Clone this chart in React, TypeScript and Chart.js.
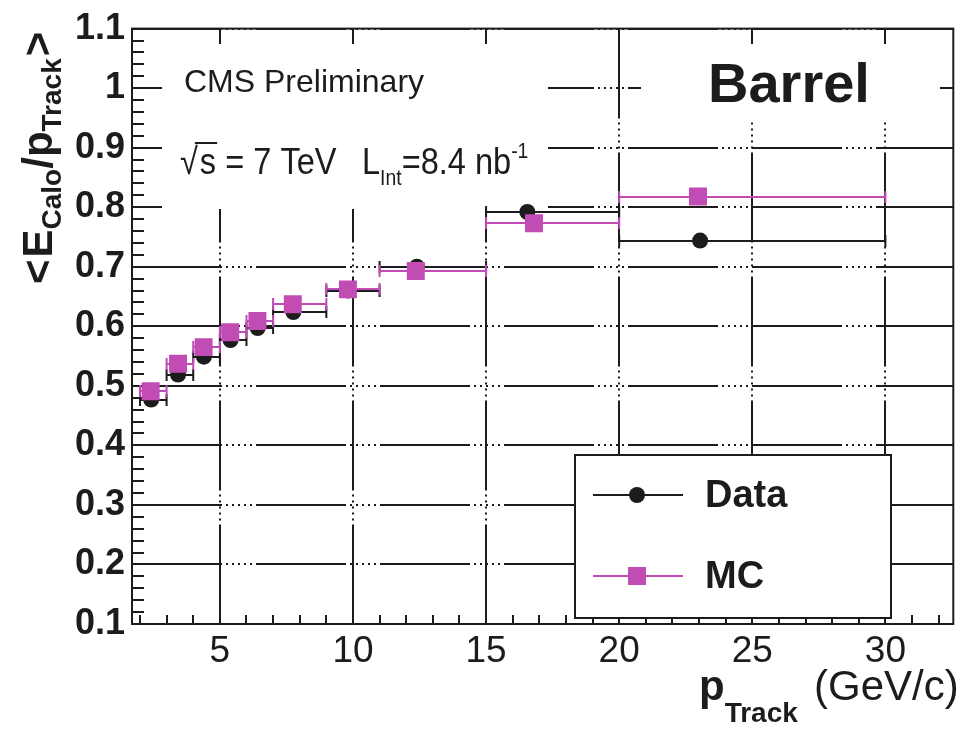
import React, { useEffect, useRef } from "react";
import { Chart, registerables } from "chart.js";

Chart.register(...registerables);

// ---- data ----
const binLow = [2, 3, 4, 5, 6, 7, 9, 11, 15, 20];
const binHigh = [3, 4, 5, 6, 7, 9, 11, 15, 20, 30];
const dataX = [2.42, 3.43, 4.4, 5.4, 6.42, 7.76, 9.82, 12.4, 16.55, 23.04];
const dataY = [0.477, 0.519, 0.549, 0.577, 0.597, 0.624, 0.66, 0.7, 0.792, 0.744];
const mcX = [2.4, 3.43, 4.39, 5.39, 6.41, 7.74, 9.81, 12.36, 16.8, 22.96];
const mcY = [0.491, 0.537, 0.565, 0.59, 0.609, 0.637, 0.662, 0.693, 0.773, 0.818];
const seriesLabels = ["Data", "MC"];
const xTickValues = [5, 10, 15, 20, 25, 30];
const xTickLabels = ["5", "10", "15", "20", "25", "30"];
const yTickValues = [0.1, 0.2, 0.3, 0.4, 0.5, 0.6, 0.7, 0.8, 0.9, 1.0, 1.1];
const yTickLabels = ["0.1", "0.2", "0.3", "0.4", "0.5", "0.6", "0.7", "0.8", "0.9", "1", "1.1"];
const xRange = [1.7, 32.55];
const yRange = [0.1, 1.1];

const FONT = '"Liberation Sans", Arial, Helvetica, sans-serif';
const INK = "#1c1c1c";
const MAGENTA = "#c04cb4";
const GRID_DASH = [90, 4, 2, 4, 2, 4, 2, 4, 2, 4, 2, 4];

function drawSegments(ctx, segs, x0, y0, sx = 1) {
  let x = x0;
  for (const s of segs) {
    ctx.font = s.font;
    ctx.save();
    ctx.translate(x, y0 + (s.dy || 0));
    ctx.scale(sx, 1);
    ctx.fillText(s.text, 0, 0);
    ctx.restore();
    x += ctx.measureText(s.text).width * sx + (s.gap || 0);
  }
  return x;
}

// white text boxes (paves) that hide the grid behind the labels
const paves = {
  id: "paves",
  beforeDatasetsDraw(chart) {
    const { ctx } = chart;
    ctx.save();
    ctx.fillStyle = "#ffffff";
    ctx.fillRect(162, 44, 386, 165);
    ctx.fillRect(641, 44, 299, 76);
    ctx.restore();
  },
};

const frameTicks = {
  id: "frameTicks",
  beforeDatasetsDraw(chart) {
    const { ctx, chartArea: a, scales } = chart;
    const xs = scales.x;
    const ys = scales.y;
    ctx.save();
    ctx.strokeStyle = INK;
    ctx.lineWidth = 2;
    ctx.beginPath();
    for (let k = 0; k <= 50; k++) {
      const v = yRange[0] + k * 0.02;
      const py = Math.round(ys.getPixelForValue(v));
      const len = k % 5 === 0 ? 24 : 12;
      ctx.moveTo(a.left, py);
      ctx.lineTo(a.left + len, py);
    }
    for (let v = 2; v <= 32; v++) {
      const px = Math.round(xs.getPixelForValue(v));
      const len = v % 5 === 0 ? 16 : 9;
      ctx.moveTo(px, a.bottom);
      ctx.lineTo(px, a.bottom - len);
    }
    for (const v of xTickValues) {
      const px = Math.round(xs.getPixelForValue(v));
      ctx.moveTo(px, a.top);
      ctx.lineTo(px, a.top + 15);
    }
    ctx.stroke();
    ctx.strokeRect(a.left, a.top, a.right - a.left, a.bottom - a.top);
    ctx.restore();
  },
};

const errorBars = {
  id: "errorBars",
  beforeDatasetsDraw(chart) {
    const { ctx, scales } = chart;
    const xs = scales.x;
    const ys = scales.y;
    ctx.save();
    chart.data.datasets.forEach((ds) => {
      ctx.strokeStyle = ds.borderColor;
      ctx.lineWidth = 2;
      ctx.beginPath();
      ds.data.forEach((p, j) => {
        const x1 = xs.getPixelForValue(binLow[j]);
        const x2 = xs.getPixelForValue(binHigh[j]);
        const py = Math.round(ys.getPixelForValue(p.y));
        ctx.moveTo(x1, py);
        ctx.lineTo(x2, py);
        ctx.moveTo(x1, py - 6);
        ctx.lineTo(x1, py + 6);
        ctx.moveTo(x2, py - 6);
        ctx.lineTo(x2, py + 6);
      });
      ctx.stroke();
    });
    ctx.restore();
  },
};

const annotations = {
  id: "annotations",
  afterDraw(chart) {
    const { ctx } = chart;
    ctx.save();
    ctx.fillStyle = INK;
    ctx.textBaseline = "alphabetic";
    ctx.textAlign = "left";

    // CMS Preliminary
    ctx.font = `32px ${FONT}`;
    ctx.fillText("CMS Preliminary", 184, 92);

    // sqrt(s) = 7 TeV  L_Int = 8.4 nb^-1
    const cond = 0.88;
    const main = `37px ${FONT}`;
    const sub = `22px ${FONT}`;
    const rEnd = drawSegments(ctx, [{ text: "\u221A", font: main }], 180, 174, cond);
    const sx = rEnd + 2;
    ctx.font = main;
    const sw = ctx.measureText("s").width * cond;
    ctx.strokeStyle = INK;
    ctx.lineWidth = 2;
    ctx.beginPath();
    ctx.moveTo(rEnd - 3, 143);
    ctx.lineTo(sx + sw + 1, 143);
    ctx.stroke();
    drawSegments(ctx, [{ text: "s = 7 TeV", font: main }], sx, 174, cond);
    drawSegments(ctx, [
      { text: "L", font: main },
      { text: "Int", font: sub, dy: 11 },
      { text: "=8.4 nb", font: main },
      { text: "-1", font: sub, dy: -16 },
    ], 362, 174, cond);

    // Barrel
    ctx.font = `bold 56px ${FONT}`;
    ctx.fillText("Barrel", 708, 102);

    // X axis title
    const xb = `bold 42px ${FONT}`;
    const xsub = `bold 28px ${FONT}`;
    drawSegments(ctx, [
      { text: "p", font: xb },
      { text: "Track", font: xsub, dy: 22 },
    ], 699, 700);
    ctx.font = `42px ${FONT}`;
    ctx.fillText("(GeV/c)", 814, 700);

    // Y axis title (rotated)
    ctx.translate(52, 284);
    ctx.rotate(-Math.PI / 2);
    const yb = `bold 42px ${FONT}`;
    const ysub = `bold 28px ${FONT}`;
    drawSegments(ctx, [
      { text: "<", font: yb, gap: 2 },
      { text: "E", font: yb },
      { text: "Calo", font: ysub, dy: 9 },
      { text: "/", font: yb },
      { text: "p", font: yb },
      { text: "Track", font: ysub, dy: 9, gap: 2 },
      { text: ">", font: yb },
    ], 0, 0);
    ctx.restore();

    // Legend box
    ctx.save();
    ctx.fillStyle = "#ffffff";
    ctx.fillRect(575, 455, 316, 163);
    ctx.strokeStyle = INK;
    ctx.lineWidth = 2;
    ctx.strokeRect(575, 455, 316, 163);
    const entries = chart.data.datasets;
    const rowY = [495, 576];
    entries.forEach((ds, i) => {
      const y = rowY[i];
      ctx.strokeStyle = ds.borderColor;
      ctx.lineWidth = 2;
      ctx.beginPath();
      ctx.moveTo(593, y);
      ctx.lineTo(683, y);
      ctx.stroke();
      ctx.fillStyle = ds.backgroundColor;
      if (ds.pointStyle === "rect") {
        ctx.fillRect(637 - 9, y - 9, 18, 18);
      } else {
        ctx.beginPath();
        ctx.arc(637, y, 8, 0, Math.PI * 2);
        ctx.fill();
      }
      ctx.fillStyle = INK;
      ctx.font = `bold 38px ${FONT}`;
      ctx.textBaseline = "middle";
      ctx.fillText(ds.label, 705, y + 2);
    });
    ctx.restore();
  },
};

export default function App() {
  const ref = useRef(null);
  useEffect(() => {
    const canvas = ref.current;
    if (!canvas) return;
    const chart = new Chart(canvas, {
      type: "scatter",
      data: {
        datasets: [
          {
            label: seriesLabels[0],
            data: dataX.map((x, i) => ({ x, y: dataY[i] })),
            borderColor: INK,
            backgroundColor: INK,
            pointStyle: "circle",
            pointRadius: 8,
            pointBorderWidth: 0,
            showLine: false,
            order: 1,
          },
          {
            label: seriesLabels[1],
            data: mcX.map((x, i) => ({ x, y: mcY[i] })),
            borderColor: MAGENTA,
            backgroundColor: MAGENTA,
            pointStyle: "rect",
            pointRadius: 12.7,
            pointBorderWidth: 0,
            showLine: false,
            order: 0,
          },
        ],
      },
      options: {
        responsive: false,
        animation: false,
        devicePixelRatio: 1,
        layout: { padding: { left: 0, top: 28, right: 5, bottom: 0 } },
        plugins: {
          legend: { display: false },
          tooltip: { enabled: false },
          title: { display: false },
        },
        scales: {
          x: {
            type: "linear",
            min: xRange[0],
            max: xRange[1],
            afterBuildTicks: (s) => {
              s.ticks = xTickValues.map((v) => ({ value: v }));
            },
            afterFit: (s) => {
              s.height = 105;
            },
            grid: { color: INK, lineWidth: 2, drawTicks: false },
            border: { display: false, dash: GRID_DASH },
            ticks: {
              autoSkip: false,
              maxRotation: 0,
              padding: 6,
              color: INK,
              font: { family: FONT, size: 37 },
              callback: (_v, i) => xTickLabels[i],
            },
          },
          y: {
            type: "linear",
            min: yRange[0],
            max: yRange[1],
            afterBuildTicks: (s) => {
              s.ticks = yTickValues.map((v) => ({ value: v }));
            },
            afterFit: (s) => {
              s.width = 132;
            },
            grid: { color: INK, lineWidth: 2, drawTicks: false },
            border: { display: false, dash: GRID_DASH },
            ticks: {
              autoSkip: false,
              padding: 7,
              color: INK,
              font: { family: FONT, size: 36, weight: "bold" },
              callback: (_v, i) => yTickLabels[i],
            },
          },
        },
      },
      plugins: [paves, frameTicks, errorBars, annotations],
    });
    return () => chart.destroy();
  }, []);
  return (
    <div style={{ position: "absolute", left: 0, top: 0, width: 966, height: 729, background: "#fff" }}>
      <canvas ref={ref} width={966} height={729} />
    </div>
  );
}
